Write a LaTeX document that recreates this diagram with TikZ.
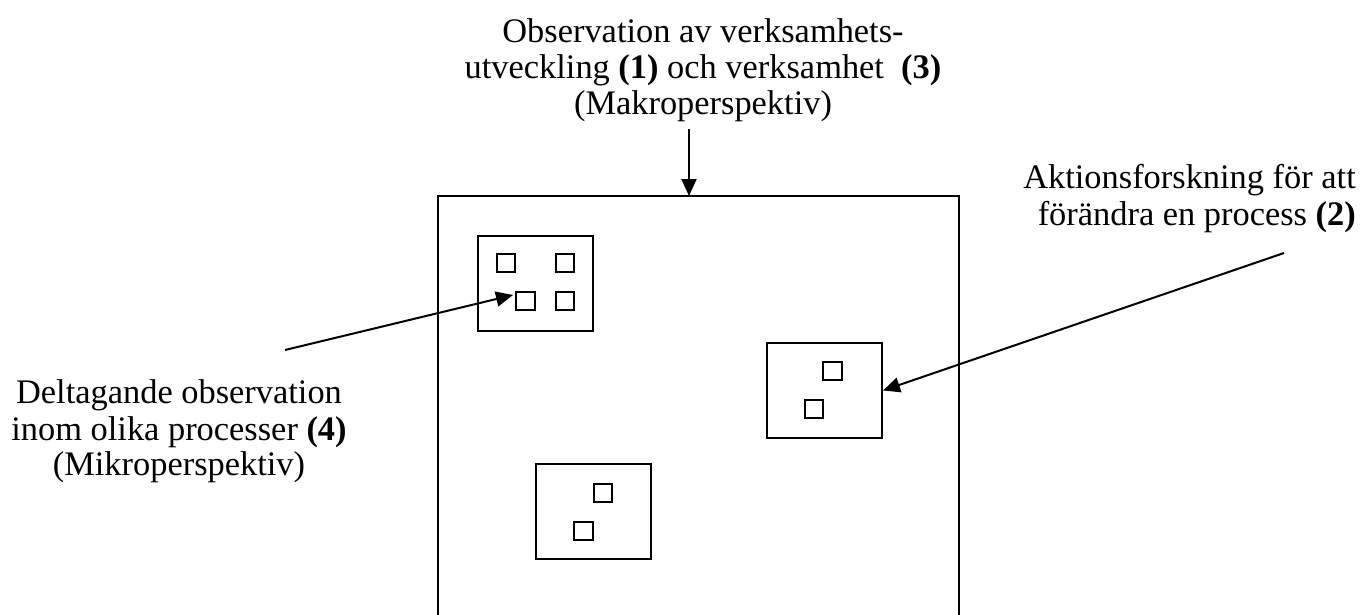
\documentclass[tikz,border=0pt]{standalone}
\usepackage{fontspec}
\setmainfont{Liberation Serif}
\usetikzlibrary{arrows.meta}
\begin{document}
\begin{tikzpicture}[x=1pt,y=-1pt,
  frame/.style={draw,line width=2pt},
  cell/.style={draw,line width=1.8pt},
  pointer/.style={line width=2pt,-{Triangle[length=17pt,width=15pt]}},
  label/.style={font=\fontsize{34.4}{36}\selectfont,inner sep=0pt}]
\useasboundingbox (0,0) rectangle (1371,615);

% organisation (outer frame)
\draw[frame] (438,196) rectangle (959,640);
\coordinate (orgtop) at (689,196);

% process boxes
\node[frame,minimum width=115pt,minimum height=95pt,inner sep=0pt,anchor=north west] (p1) at (477,235) {};
\node[frame,minimum width=115pt,minimum height=95pt,inner sep=0pt,anchor=north west] (p2) at (766,342) {};
\node[frame,minimum width=115pt,minimum height=95pt,inner sep=0pt,anchor=north west] (p3) at (535,463) {};

% activities inside process 1
\draw[cell] (497,254) rectangle (515,272);
\draw[cell] (556,254) rectangle (574,272);
\draw[cell] (516,292) rectangle (535,310);
\draw[cell] (556,292) rectangle (574,310);
\coordinate (p1in) at (513,295);

% activities inside process 2
\draw[cell] (823,362) rectangle (842,380);
\draw[cell] (805,400) rectangle (823,418);

% activities inside process 3
\draw[cell] (594,484) rectangle (612,502);
\draw[cell] (574,522) rectangle (593,540);

% labels, one node per printed line
\node[label,anchor=base] (macroA) at (703,43) {Observation av verksamhets-};
\node[label,anchor=base] (macroB) at (703,79) {utveckling \textbf{(1)} och verksamhet\ \ \textbf{(3)}};
\node[label,anchor=base] (macroC) at (703,115) {(Makroperspektiv)};

\node[label,anchor=base east] (actionA) at (1356,189) {Aktionsforskning för att};
\node[label,anchor=base east] (actionB) at (1356,225) {förändra en process \textbf{(2)}};

\node[label,anchor=base] (microA) at (179,403) {Deltagande observation};
\node[label,anchor=base] (microB) at (179,440) {inom olika processer \textbf{(4)}};
\node[label,anchor=base] (microC) at (179,475) {(Mikroperspektiv)};

% pointers
\coordinate (macroend) at (689,129);
\coordinate (actionend) at (1284,253);
\coordinate (microend) at (285,350);
\draw[pointer] (macroend) -- (orgtop);
\draw[pointer] (actionend) -- (p2.east);
\draw[pointer] (microend) -- (p1in);
\end{tikzpicture}
\end{document}
